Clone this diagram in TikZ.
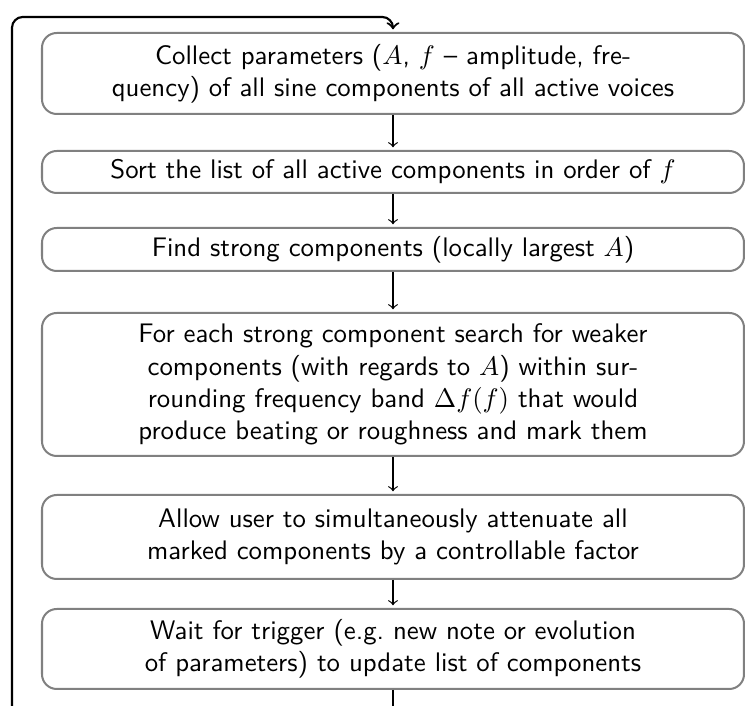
\documentclass[tikz,border=0pt]{standalone}
\usetikzlibrary{arrows}
\newcommand{\pxu}{0.373pt}
\begin{document}
\begin{tikzpicture}[x=\pxu,y=-\pxu,
  stagebox/.style={draw=black!50,line width=0.75pt,rounded corners=5.5pt,
    minimum width=702*\pxu,align=center,font=\sffamily,inner sep=0pt},
  flow/.style={->,>=to,line width=0.45pt,shorten >=1pt}]
\useasboundingbox (0,0) rectangle (745,706);
\node[stagebox,minimum height=81*\pxu] (b1) at (393,73.5)
  {Collect parameters ($A$, $f$ -- amplitude, fre-\\quency) of all sine components of all active voices};
\node[stagebox,minimum height=42*\pxu] (b2) at (393,172)
  {Sort the list of all active components in order of $f$};
\node[stagebox,minimum height=43*\pxu] (b3) at (393,249.5)
  {Find strong components (locally largest $A$)};
\node[stagebox,minimum height=143*\pxu] (b4) at (393,384.5)
  {For each strong component search for weaker\\components (with regards to $A$) within sur-\\rounding frequency band $\Delta f(f)$ that would\\produce beating or roughness and mark them};
\node[stagebox,minimum height=84*\pxu] (b5) at (393,537)
  {Allow user to simultaneously attenuate all\\marked components by a controllable factor};
\node[stagebox,minimum height=80*\pxu] (b6) at (393,649)
  {Wait for trigger (e.g.\ new note or evolution\\of parameters) to update list of components};
\draw[flow] (b1) -- (b2);
\draw[flow] (b2) -- (b3);
\draw[flow] (b3) -- (b4);
\draw[flow] (b4) -- (b5);
\draw[flow] (b5) -- (b6);
% return path back to the first stage
\coordinate (down) at (393,712);
\coordinate (back) at (12,712);
\draw[line width=0.6pt] (b6) -- (down);
\draw[flow,line width=0.8pt,rounded corners=4pt] (back) -- (12,17) -- (393,17) -- (b1);
\end{tikzpicture}
\end{document}
